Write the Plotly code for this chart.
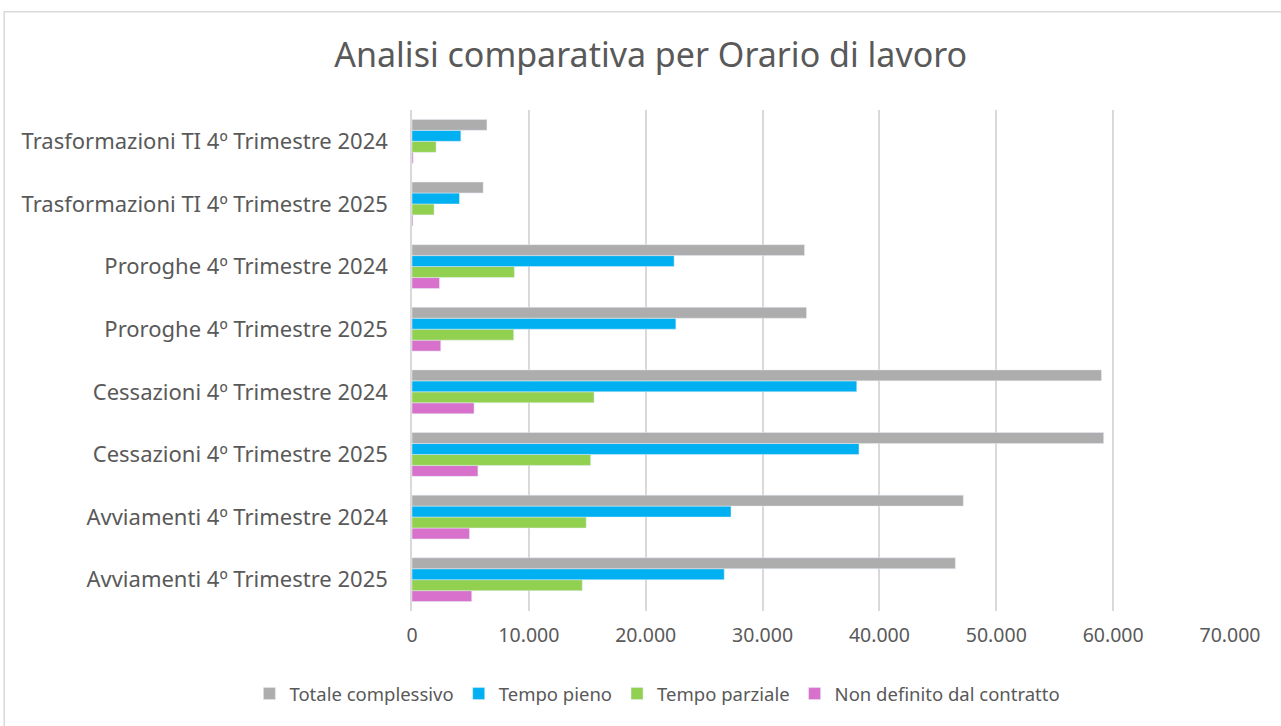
import plotly.graph_objects as go

# categorie (dal basso verso l'alto, come nel grafico)
categorie = [
    "Avviamenti 4º Trimestre 2025",
    "Avviamenti 4º Trimestre 2024",
    "Cessazioni 4º Trimestre 2025",
    "Cessazioni 4º Trimestre 2024",
    "Proroghe 4º Trimestre 2025",
    "Proroghe 4º Trimestre 2024",
    "Trasformazioni TI 4º Trimestre 2025",
    "Trasformazioni TI 4º Trimestre 2024",
]

totale_complessivo = [46500, 47180, 59190, 59000, 33760, 33590, 6090, 6410]
tempo_pieno = [26720, 27300, 38250, 38060, 22580, 22430, 4060, 4180]
tempo_parziale = [14570, 14910, 15290, 15580, 8700, 8760, 1890, 2060]
non_definito = [5110, 4920, 5640, 5310, 2460, 2350, 80, 100]

x_ticks = [0, 10000, 20000, 30000, 40000, 50000, 60000, 70000]

FONT = "Noto Sans"
GRIGIO_TESTO = "#595959"

serie = [
    ("Non definito dal contratto", non_definito, "#d871cb", 4),
    ("Tempo parziale", tempo_parziale, "#92d050", 3),
    ("Tempo pieno", tempo_pieno, "#00b0f0", 2),
    ("Totale complessivo", totale_complessivo, "#adadad", 1),
]

fig = go.Figure()
for nome, valori, colore, rank in serie:
    fig.add_trace(
        go.Bar(
            y=categorie,
            x=valori,
            name=nome,
            orientation="h",
            marker_color=colore,
            legendrank=rank,
        )
    )

# cornice del grafico
fig.add_shape(
    type="rect", xref="paper", yref="paper",
    x0=-0.4985, x1=1.2, y0=-0.4, y1=1.196,
    line=dict(color="#d9d9d9", width=1.5),
    layer="below",
)

fig.update_layout(
    width=1281, height=726,
    paper_bgcolor="white", plot_bgcolor="white",
    barmode="group", bargap=0.3, bargroupgap=0,
    separators=",.",
    font=dict(family=FONT, color=GRIGIO_TESTO, size=18),
    title=dict(
        text="Analisi comparativa per Orario di lavoro",
        x=0.508, xref="container", xanchor="center",
        y=0.924, yanchor="middle",
        font=dict(size=34, color=GRIGIO_TESTO, family=FONT),
    ),
    margin=dict(l=412, r=51, t=110, b=115),
    showlegend=True,
    legend=dict(
        orientation="h", x=0.3, xref="paper", xanchor="center",
        y=0.044, yref="container", yanchor="middle",
        font=dict(size=18.5, color=GRIGIO_TESTO),
        itemwidth=30, tracegroupgap=0,
    ),
    xaxis=dict(
        range=[0, 70000], tickvals=x_ticks, tickformat=",d",
        showgrid=True, gridcolor="#d9d9d9", gridwidth=1.5,
        zeroline=False, showline=False,
        tickfont=dict(size=19.5, color=GRIGIO_TESTO),
        ticks="", ticklabelstandoff=10,
        fixedrange=True,
    ),
    yaxis=dict(
        showline=True, linecolor="#d9d9d9", linewidth=1.5,
        showgrid=False, ticks="",
        tickfont=dict(size=22, color=GRIGIO_TESTO),
        ticklabelstandoff=18,
    ),
)

fig.write_html(
    "out.html",
    config={"displayModeBar": False},
    post_script="document.body.style.margin='0';document.body.style.overflow='hidden';",
)
